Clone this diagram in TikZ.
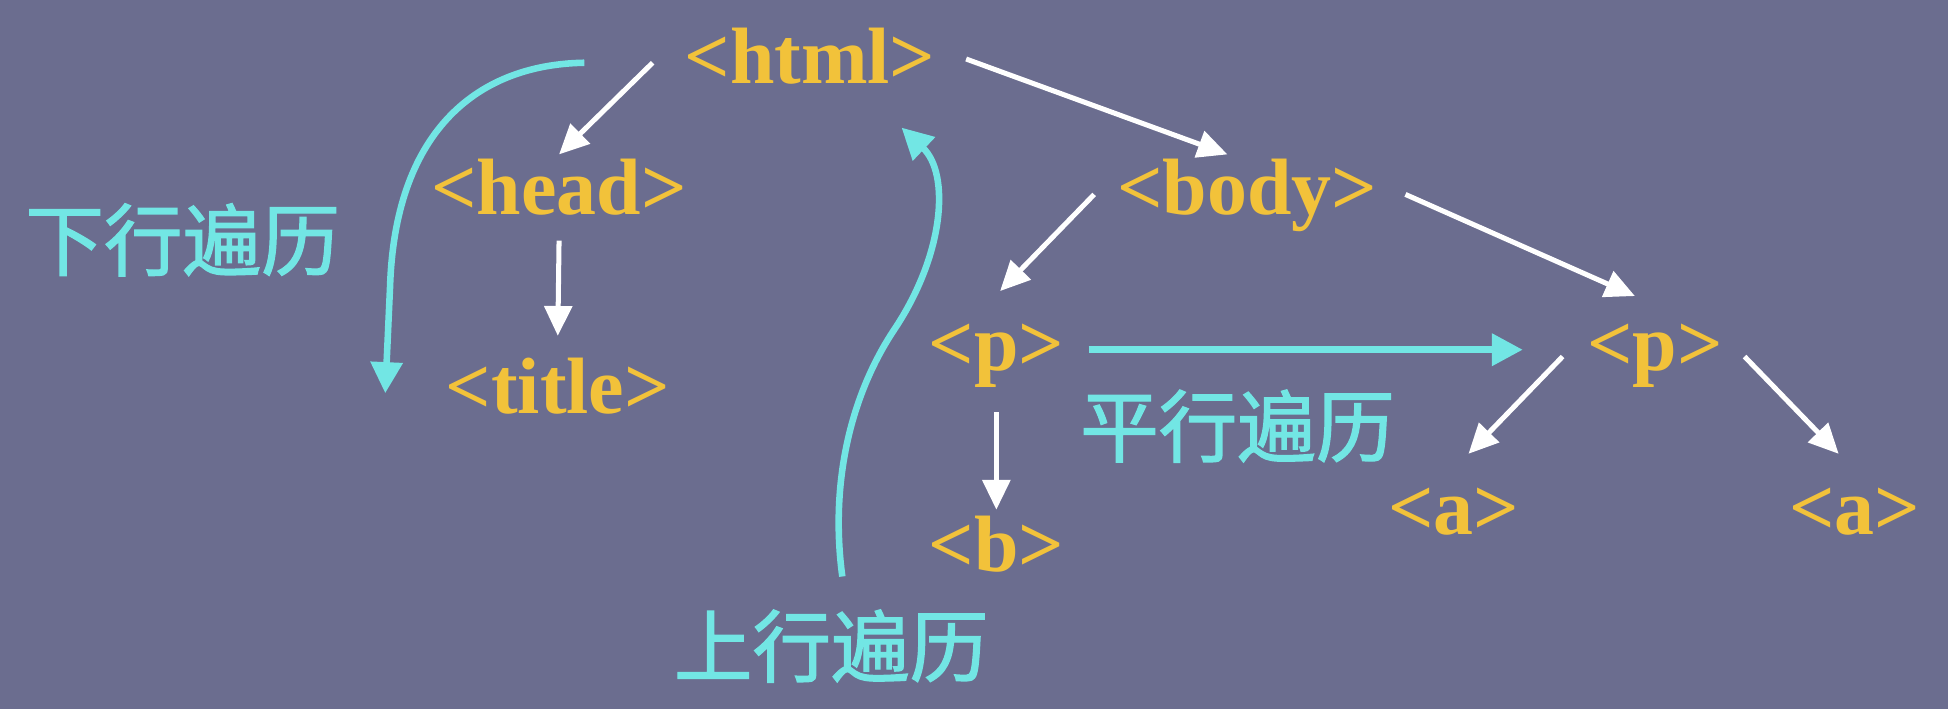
\documentclass[tikz,border=0pt]{standalone}
\usepackage{fontspec}
\setmainfont{Liberation Serif}
\newfontfamily\cjk{Noto Sans CJK SC}[FakeBold=1.6]
\usetikzlibrary{arrows.meta}
\definecolor{bgblue}{RGB}{107,109,143}
\definecolor{tagyellow}{RGB}{242,194,58}
\definecolor{travcyan}{RGB}{114,230,228}
\begin{document}
\begin{tikzpicture}[x=0.1mm, y=-0.1mm,
    tag/.style={text=tagyellow, font=\bfseries\fontsize{18.3}{20}\selectfont,
        inner sep=0pt, anchor=base, text height=4.5mm, text depth=1.2mm},
    trav/.style={text=travcyan, font=\cjk\fontsize{18}{20}\selectfont, inner sep=0pt},
    down/.style={draw=white, line width=1.15pt, -{Triangle[length=2.4mm,width=2.2mm]}},
    walk/.style={draw=travcyan, line width=1.5pt, -{Triangle[length=2.5mm,width=2.5mm]}}]
    \fill[bgblue] (0,0) rectangle (1568,571);
    \foreach \name/\tag/\x/\y in {html/html/652/67, head/head/450/173, title/title/449/333,
        body/body/1004/173, p1/p/802/298, p2/p/1332/298, b/b/802/460, a1/a/1170/430, a2/a/1493/430} {
        \node[tag] (\name) at (\x,\y) {<\tag>};
    }
    \node[trav] (godown) at (147,193) {下行遍历};
    \node[trav] (goup) at (669,520) {上行遍历};
    \node[trav] (goside) at (996,343) {平行遍历};
    \draw[down] ([xshift=-2.5mm]html.west) -- ([yshift=0.3mm]head.north);
    \draw[down] ([yshift=-0.8mm]head.south) -- ([yshift=1.7mm]title.north);
    \draw[down] ([xshift=2.4mm,yshift=0.3mm]html.east) -- ([xshift=-1.6mm,yshift=0.3mm]body.north);
    \draw[down] ([xshift=-1.8mm]body.west) -- ([xshift=0.3mm,yshift=1.8mm]p1.north);
    \draw[down] ([xshift=2.2mm]body.east) -- ([xshift=-1.6mm,yshift=1.4mm]p2.north);
    \draw[down] ([yshift=-2.1mm]p1.south) -- ([yshift=0.4mm]b.north);
    \draw[down] ([xshift=-1.9mm,yshift=-0.55mm]p2.west) -- ([xshift=1.2mm,yshift=1.9mm]a1.north);
    \draw[down] ([xshift=1.7mm,yshift=-0.55mm]p2.east) -- ([xshift=-1.3mm,yshift=1.9mm]a2.north);
    \draw[walk] ([xshift=-8mm]html.west) .. controls (380,52) and (318,110) .. (314,230)
        -- ([xshift=-4.8mm]title.west);
    \draw[walk] ([xshift=0.9mm,yshift=2.6mm]goup.north) .. controls (668,390) and (684,319) .. (720,265)
        .. controls (760,205) and (765,140) .. ([xshift=-2.8mm,yshift=-2.3mm]html.south east);
    \draw[walk, line width=1.6pt] ([xshift=1.9mm]p1.east) -- ([xshift=-5.1mm]p2.west);
\end{tikzpicture}
\end{document}
